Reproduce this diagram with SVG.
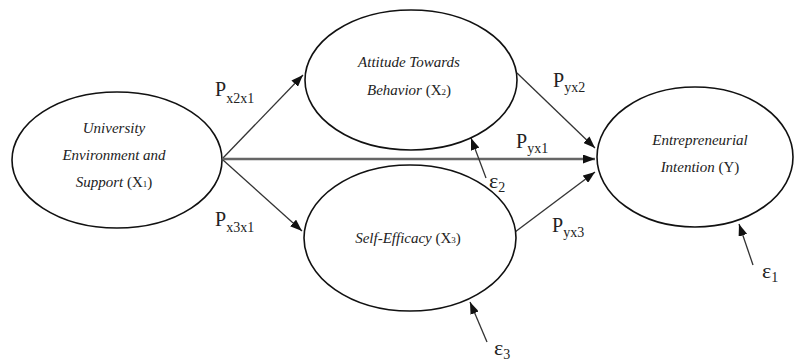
<svg xmlns="http://www.w3.org/2000/svg" width="795" height="361" viewBox="0 0 795 361">
<defs>
<style>
.node ellipse{fill:#fff;stroke:#111;stroke-width:1.6}
.nt{font-family:"Liberation Serif","Times New Roman",serif;font-size:15px;font-style:italic;fill:#222;text-anchor:middle}
.up{font-style:normal}
.sm{font-style:normal;font-size:9px}
.edge{stroke:#333;stroke-width:1.3;fill:none}
.lbl{font-family:"Liberation Serif","Times New Roman",serif;font-size:20px;fill:#222}
.sub{font-size:14px}
.eps{font-family:"Liberation Serif","Times New Roman",serif;font-size:22px;fill:#222}
</style>
<marker id="ah" markerUnits="userSpaceOnUse" markerWidth="12" markerHeight="9" refX="12" refY="4.5" orient="auto">
<path d="M0,0 L12,4.5 L0,9 z" fill="#111"/>
</marker>
</defs>
<rect width="795" height="361" fill="#fff"/>
<g id="connectors">
<line class="edge" x1="223" y1="158" x2="303" y2="75" marker-end="url(#ah)"/>
<line class="edge" x1="223" y1="160" x2="302" y2="231" marker-end="url(#ah)"/>
<line class="edge" x1="223" y1="159" x2="595" y2="159" style="stroke:#666;stroke-width:2.6" marker-end="url(#ah)"/>
<line class="edge" x1="517" y1="73" x2="595" y2="148" marker-end="url(#ah)"/>
<line class="edge" x1="515" y1="232" x2="595" y2="172" marker-end="url(#ah)"/>
<line class="edge" x1="486" y1="178" x2="471" y2="138" marker-end="url(#ah)"/>
<line class="edge" x1="487" y1="342" x2="470" y2="302" marker-end="url(#ah)"/>
<line class="edge" x1="753" y1="265" x2="739" y2="224" marker-end="url(#ah)"/>
</g>
<g id="x1" class="node">
<ellipse cx="117" cy="160" rx="105" ry="68"/>
<text class="nt" x="114" y="133">University</text>
<text class="nt" x="114" y="160">Environment and</text>
<text class="nt" x="114" y="187">Support <tspan class="up">(X</tspan><tspan class="sm">1</tspan><tspan class="up">)</tspan></text>
</g>
<g id="x2" class="node">
<ellipse cx="411" cy="80" rx="106" ry="70"/>
<text class="nt" x="409" y="67">Attitude Towards</text>
<text class="nt" x="409" y="95">Behavior <tspan class="up">(X</tspan><tspan class="sm">2</tspan><tspan class="up">)</tspan></text>
</g>
<g id="x3" class="node">
<ellipse cx="410" cy="238" rx="106" ry="73"/>
<text class="nt" x="408" y="243">Self-Efficacy <tspan class="up">(X</tspan><tspan class="sm">3</tspan><tspan class="up">)</tspan></text>
</g>
<g id="y" class="node">
<ellipse cx="695" cy="157" rx="98" ry="70"/>
<text class="nt" x="700" y="145">Entrepreneurial</text>
<text class="nt" x="700" y="172">Intention <tspan class="up">(Y)</tspan></text>
</g>
<g id="labels">
<text class="lbl" x="215" y="96">P<tspan class="sub" dy="7">x2x1</tspan></text>
<text class="lbl" x="215" y="226">P<tspan class="sub" dy="6">x3x1</tspan></text>
<text class="lbl" x="516" y="148">P<tspan class="sub" dy="5">yx1</tspan></text>
<text class="lbl" x="553" y="87">P<tspan class="sub" dy="5">yx2</tspan></text>
<text class="lbl" x="552" y="232">P<tspan class="sub" dy="5">yx3</tspan></text>
<text class="eps" x="489" y="188">ε<tspan class="sub" dy="4">2</tspan></text>
<text class="eps" x="494" y="355">ε<tspan class="sub" dy="4">3</tspan></text>
<text class="eps" x="762" y="278">ε<tspan class="sub" dy="4">1</tspan></text>
</g>
</svg>
